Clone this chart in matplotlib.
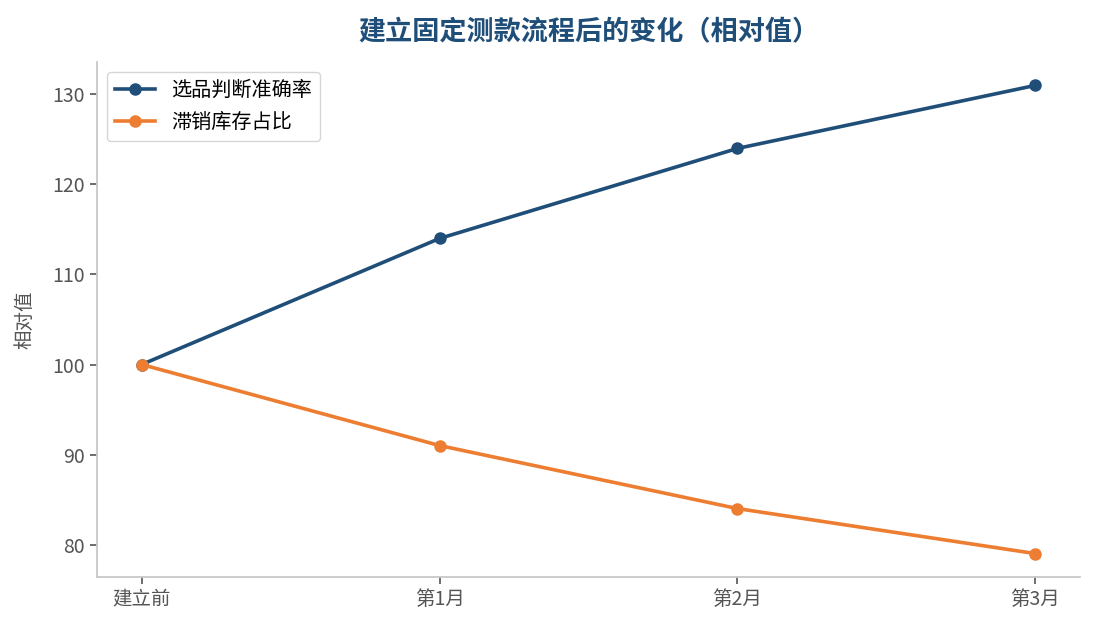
import matplotlib
matplotlib.use("Agg")
import matplotlib.pyplot as plt

plt.rcParams['font.family'] = ['Noto Sans CJK SC', 'DejaVu Sans']

categories = ["建立前", "第1月", "第2月", "第3月"]
accuracy = [100, 114, 124, 131]
slow_stock = [100, 91, 84, 79]
series_names = ["选品判断准确率", "滞销库存占比"]

fig = plt.figure(figsize=(10.95, 6.3), dpi=100)
ax = fig.add_axes([97/1095, 1-577/630, (1080-97)/1095, (577-62)/630])

x = list(range(len(categories)))
ax.plot(x, accuracy, color="#1f4e79", lw=2.6, marker="o", ms=8, label=series_names[0])
ax.plot(x, slow_stock, color="#ed7d31", lw=2.6, marker="o", ms=8, label=series_names[1])

ax.set_xticks(x)
ax.set_xticklabels(categories)
ax.set_yticks([80, 90, 100, 110, 120, 130])
ax.tick_params(colors="#555555", labelsize=14, length=5, width=1.2)
for s in ["top", "right"]:
    ax.spines[s].set_visible(False)
for s in ["left", "bottom"]:
    ax.spines[s].set_color("#c8c8c8")
    ax.spines[s].set_linewidth(1.3)
ax.set_ylabel("相对值", color="#555555", fontsize=14)
ax.yaxis.set_label_coords(-62/983, 0.5)
ax.text(0.5, 1 + 30/515, "建立固定测款流程后的变化（相对值）", transform=ax.transAxes,
        ha="center", va="center", color="#1f4e79", fontsize=19.5, fontweight="bold")
ax.legend(loc="upper left", fontsize=14.5, frameon=True, edgecolor="#cccccc",
          borderaxespad=0.5, labelspacing=0.55)

fig.savefig("out.png", dpi=100)
